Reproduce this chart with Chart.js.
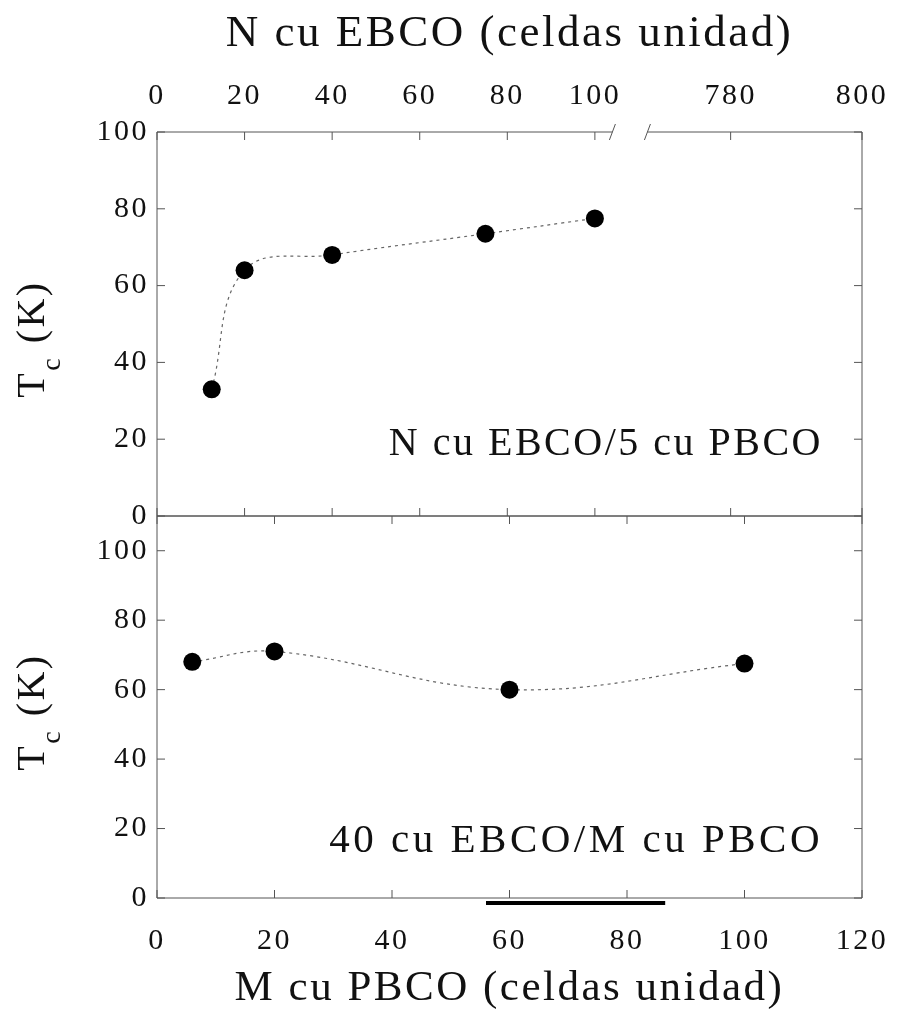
<!DOCTYPE html>
<html>
<head>
<meta charset="utf-8">
<script src="https://cdn.jsdelivr.net/npm/chart.js@4.4.1/dist/chart.umd.min.js"></script>
<style>
html, body { margin: 0; padding: 0; background: #fff; }
#wrap { position: relative; width: 902px; height: 1015px; }
#topChart { position: absolute; left: 0; top: 0; }
#botChart { position: absolute; left: 0; top: 500px; }
</style>
</head>
<body>
<div id="wrap">
  <canvas id="topChart" width="902" height="540"></canvas>
  <canvas id="botChart" width="902" height="515"></canvas>
</div>
<script>
// data

// upper panel: N cu EBCO / 5 cu PBCO
const nEBCO = [12.5, 20, 40, 75, 100];
const tcTop = [33, 64, 68, 73.5, 77.5];

// lower panel: 40 cu EBCO / M cu PBCO
const mPBCO = [6, 20, 60, 100];
const tcBot = [68, 71, 60, 67.5];

// top axis is broken after 100 (780, 800 sit past the break)
const topTickAt = [0, 20, 40, 60, 80, 100, 131, 161];
const topTickLabels = ['0', '20', '40', '60', '80', '100', '780', '800'];
const yTicks = [0, 20, 40, 60, 80, 100];
const botXTicks = [0, 20, 40, 60, 80, 100, 120];

const FONT = "'Liberation Serif', 'DejaVu Serif', serif";
const INK = '#111';

// scan-like frame with inward ticks, optional break on the top edge
const framePlugin = {
    id: 'frame',
    beforeDatasetsDraw(chart, args, o) {
        const { ctx, chartArea: { left, right, top, bottom }, scales } = chart;
        const xs = scales[o.x], ys = scales[o.y];
        ctx.save();
        ctx.strokeStyle = o.color;
        ctx.lineWidth = 1;
        ctx.beginPath();
        if (o.gap) {
            const g0 = xs.getPixelForValue(o.gap[0]);
            const g1 = xs.getPixelForValue(o.gap[1]);
            ctx.moveTo(left, top); ctx.lineTo(g0, top);
            ctx.moveTo(g1, top); ctx.lineTo(right, top);
            ctx.moveTo(g0 - 3, top + 8); ctx.lineTo(g0 + 3, top - 8);
            ctx.moveTo(g1 - 3, top + 8); ctx.lineTo(g1 + 3, top - 8);
        } else {
            ctx.moveTo(left, top); ctx.lineTo(right, top);
        }
        ctx.moveTo(right, top); ctx.lineTo(right, bottom);
        ctx.lineTo(left, bottom); ctx.lineTo(left, top);
        xs.ticks.forEach(t => {
            const px = xs.getPixelForValue(t.value);
            ctx.moveTo(px, top); ctx.lineTo(px, top + o.len);
            ctx.moveTo(px, bottom); ctx.lineTo(px, bottom - o.len);
        });
        ys.ticks.forEach(t => {
            const py = ys.getPixelForValue(t.value);
            ctx.moveTo(left, py); ctx.lineTo(left + o.len, py);
            ctx.moveTo(right, py); ctx.lineTo(right - o.len, py);
        });
        ctx.stroke();
        ctx.restore();
    }
};

// T_c (K) with a real subscript
const yTitlePlugin = {
    id: 'yTitle',
    afterDraw(chart, args, o) {
        const { ctx, chartArea } = chart;
        const big = `${o.size}px ${FONT}`, small = `${o.subSize}px ${FONT}`;
        ctx.save();
        ctx.fillStyle = INK;
        ctx.font = big;
        const wT = ctx.measureText(o.main).width;
        const wR = ctx.measureText(o.rest).width;
        ctx.font = small;
        const wS = ctx.measureText(o.sub).width;
        const total = wT + wS + wR;
        ctx.translate(o.x, (chartArea.top + chartArea.bottom) / 2 + o.shift);
        ctx.rotate(-Math.PI / 2);
        ctx.textAlign = 'left';
        ctx.textBaseline = 'alphabetic';
        let x = -total / 2;
        ctx.font = big; ctx.fillText(o.main, x, 0); x += wT;
        ctx.font = small; ctx.fillText(o.sub, x, o.subDrop); x += wS;
        ctx.font = big; ctx.fillText(o.rest, x, 0);
        ctx.restore();
    }
};

// sample label inside each panel, plus the stray bar under the lower axis
const panelTextPlugin = {
    id: 'panelText',
    afterDraw(chart, args, o) {
        const { ctx, chartArea, scales } = chart;
        ctx.save();
        ctx.fillStyle = INK;
        ctx.letterSpacing = o.spacing;
        ctx.font = `${o.size}px ${FONT}`;
        ctx.textAlign = 'right';
        ctx.textBaseline = 'alphabetic';
        ctx.fillText(o.text, chartArea.right - o.dx, chartArea.bottom - o.dy);
        if (o.bar) {
            const xs = scales[o.bar.axis];
            ctx.strokeStyle = '#000';
            ctx.lineWidth = 4;
            ctx.beginPath();
            ctx.moveTo(xs.getPixelForValue(o.bar.from), chartArea.bottom + 5);
            ctx.lineTo(xs.getPixelForValue(o.bar.to), chartArea.bottom + 5);
            ctx.stroke();
        }
        ctx.restore();
    }
};

const spacingPlugin = {
    id: 'spacing',
    beforeDraw(chart) { chart.ctx.letterSpacing = '2.5px'; }
};

const lineStyle = {
    showLine: true,
    borderColor: '#666',
    borderWidth: 1.2,
    borderDash: [3, 4],
    tension: 0.4,
    pointRadius: 9,
    pointHoverRadius: 9,
    pointBackgroundColor: '#000',
    pointBorderWidth: 0
};

const tickFont = { family: FONT, size: 30 };

// keep the plot boxes exactly where the figure has them
const fitX = h => s => { s.height = h; s.paddingLeft = 0; s.paddingRight = 0; };
const fitY = s => { s.width = 157; s.paddingTop = 0; s.paddingBottom = 0; };

new Chart(document.getElementById('topChart'), {
    type: 'scatter',
    data: {
        datasets: [{
            ...lineStyle,
            data: nEBCO.map((n, i) => ({ x: n, y: tcTop[i] })),
            xAxisID: 'xTop',
            yAxisID: 'yTop'
        }]
    },
    options: {
        responsive: false,
        animation: false,
        layout: { padding: { left: 0, right: 40, top: 0, bottom: 24 } },
        plugins: {
            legend: { display: false },
            tooltip: { enabled: false },
            frame: { x: 'xTop', y: 'yTop', color: '#555', len: 8, gap: [104, 112] },
            yTitle: { main: 'T', sub: 'c', rest: ' (K)', size: 40, subSize: 28, subDrop: 16, x: 44, shift: 15 },
            panelText: { text: 'N cu EBCO/5 cu PBCO', size: 40, spacing: '2.5px', dx: 39, dy: 61 }
        },
        scales: {
            xTop: {
                type: 'linear',
                position: 'top',
                min: 0,
                max: 161,
                afterBuildTicks: s => { s.ticks = topTickAt.map(v => ({ value: v })); },
                afterFit: fitX(132),
                grid: { display: false, drawTicks: false },
                border: { display: false },
                ticks: {
                    autoSkip: false, maxRotation: 0, padding: 18, color: INK, font: tickFont,
                    callback: (v, i) => topTickLabels[i]
                },
                title: {
                    display: true, text: 'N cu EBCO (celdas unidad)', color: INK,
                    font: { family: FONT, size: 45 }, padding: { top: 7, bottom: 0 }
                }
            },
            yTop: {
                type: 'linear',
                position: 'left',
                min: 0,
                max: 100,
                afterBuildTicks: s => { s.ticks = yTicks.map(v => ({ value: v })); },
                afterFit: fitY,
                grid: { display: false, drawTicks: false },
                border: { display: false },
                ticks: { padding: 8, color: INK, font: tickFont }
            }
        }
    },
    plugins: [spacingPlugin, framePlugin, yTitlePlugin, panelTextPlugin]
});

new Chart(document.getElementById('botChart'), {
    type: 'scatter',
    data: {
        datasets: [{
            ...lineStyle,
            data: mPBCO.map((m, i) => ({ x: m, y: tcBot[i] })),
            xAxisID: 'xBot',
            yAxisID: 'yBot'
        }]
    },
    options: {
        responsive: false,
        animation: false,
        layout: { padding: { left: 0, right: 40, top: 16, bottom: 0 } },
        plugins: {
            legend: { display: false },
            tooltip: { enabled: false },
            frame: { x: 'xBot', y: 'yBot', color: '#555', len: 8 },
            yTitle: { main: 'T', sub: 'c', rest: ' (K)', size: 40, subSize: 28, subDrop: 16, x: 44, shift: 5 },
            panelText: {
                text: '40 cu EBCO/M cu PBCO', size: 41, spacing: '3.5px', dx: 39, dy: 46,
                bar: { axis: 'xBot', from: 56, to: 86.5 }
            }
        },
        scales: {
            xBot: {
                type: 'linear',
                position: 'bottom',
                min: 0,
                max: 120,
                afterBuildTicks: s => { s.ticks = botXTicks.map(v => ({ value: v })); },
                afterFit: fitX(117),
                grid: { display: false, drawTicks: false },
                border: { display: false },
                ticks: { autoSkip: false, maxRotation: 0, padding: 25, color: INK, font: tickFont },
                title: {
                    display: true, text: 'M cu PBCO (celdas unidad)', color: INK,
                    font: { family: FONT, size: 43 }, padding: { top: 0, bottom: 0 }
                }
            },
            yBot: {
                type: 'linear',
                position: 'left',
                min: 0,
                max: 110,
                afterBuildTicks: s => { s.ticks = yTicks.map(v => ({ value: v })); },
                afterFit: fitY,
                grid: { display: false, drawTicks: false },
                border: { display: false },
                ticks: { padding: 8, color: INK, font: tickFont }
            }
        }
    },
    plugins: [spacingPlugin, framePlugin, yTitlePlugin, panelTextPlugin]
});
</script>
</body>
</html>
